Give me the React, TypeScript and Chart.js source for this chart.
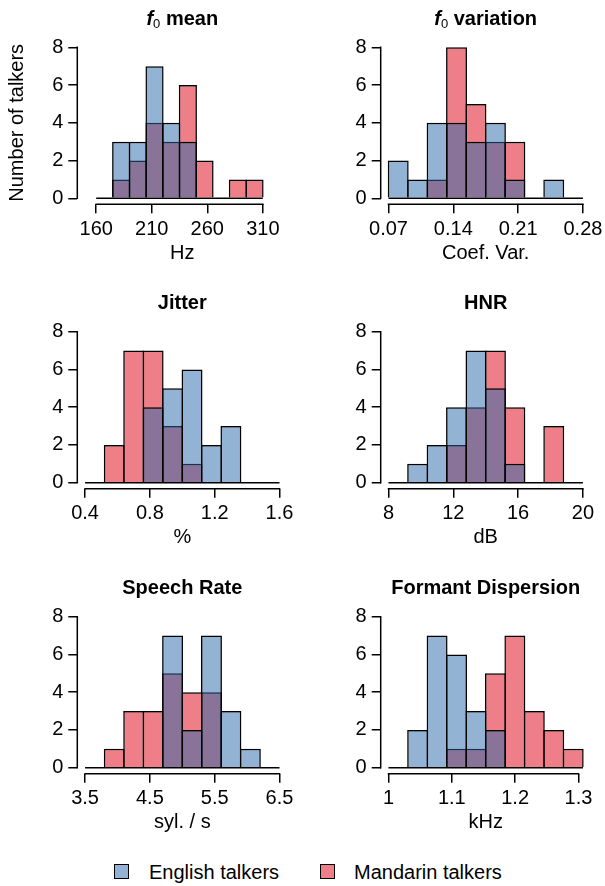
import React, { useEffect, useRef } from 'react';
import { Chart, registerables } from 'chart.js';

Chart.register(...registerables);

const FONT = "'Liberation Sans', Arial, Helvetica, sans-serif";
const ENGLISH_COLOR = 'rgba(37,103,169,0.5)';
const MANDARIN_COLOR = 'rgba(221,0,17,0.5)';

// ---------- data ----------
const f0MeanBreaks = [160, 175, 190, 205, 220, 235, 250, 265, 280, 295, 310];
const f0MeanEnglish = [0, 3, 3, 7, 4, 3, 0, 0, 0, 0];
const f0MeanMandarin = [0, 1, 2, 4, 3, 6, 2, 0, 1, 1];
const f0MeanTicks = [160, 210, 260, 310];
const f0MeanTickLabels = ['160', '210', '260', '310'];

const f0VarBreaks = [0.07, 0.091, 0.112, 0.133, 0.154, 0.175, 0.196, 0.217, 0.238, 0.259, 0.28];
const f0VarEnglish = [2, 1, 4, 4, 3, 4, 1, 0, 1, 0];
const f0VarMandarin = [0, 0, 1, 8, 5, 3, 3, 0, 0, 0];
const f0VarTicks = [0.07, 0.14, 0.21, 0.28];
const f0VarTickLabels = ['0.07', '0.14', '0.21', '0.28'];

const jitterBreaks = [0.4, 0.52, 0.64, 0.76, 0.88, 1.0, 1.12, 1.24, 1.36, 1.48, 1.6];
const jitterEnglish = [0, 0, 0, 4, 5, 6, 2, 3, 0, 0];
const jitterMandarin = [0, 2, 7, 7, 3, 1, 0, 0, 0, 0];
const jitterTicks = [0.4, 0.8, 1.2, 1.6];
const jitterTickLabels = ['0.4', '0.8', '1.2', '1.6'];

const hnrBreaks = [8, 9.2, 10.4, 11.6, 12.8, 14, 15.2, 16.4, 17.6, 18.8, 20];
const hnrEnglish = [0, 1, 2, 4, 7, 5, 1, 0, 0, 0];
const hnrMandarin = [0, 0, 0, 2, 4, 7, 4, 0, 3, 0];
const hnrTicks = [8, 12, 16, 20];
const hnrTickLabels = ['8', '12', '16', '20'];

const rateBreaks = [3.5, 3.8, 4.1, 4.4, 4.7, 5.0, 5.3, 5.6, 5.9, 6.2, 6.5];
const rateEnglish = [0, 0, 0, 0, 7, 2, 7, 3, 1, 0];
const rateMandarin = [0, 1, 3, 3, 5, 4, 4, 0, 0, 0];
const rateTicks = [3.5, 4.5, 5.5, 6.5];
const rateTickLabels = ['3.5', '4.5', '5.5', '6.5'];

const formantBreaks = [1.0, 1.0307, 1.0614, 1.0921, 1.1228, 1.1535, 1.1842, 1.2149, 1.2456, 1.2763, 1.307];
const formantEnglish = [0, 2, 7, 6, 3, 2, 0, 0, 0, 0];
const formantMandarin = [0, 0, 0, 1, 1, 5, 7, 3, 2, 1];
const formantTicks = [1, 1.1, 1.2, 1.3];
const formantTickLabels = ['1', '1.1', '1.2', '1.3'];

const yTicks = [0, 2, 4, 6, 8];
const yTickLabels = ['0', '2', '4', '6', '8'];

// ---------- layout ----------
const CANVAS_W = 300;
const CANVAS_H = 270;
const AREA_W = 210;
const AREA_H = 163;
const BW = 1.5;
const COL_LEFT = [0, 303];
const Y_AXIS_W = [77.3, 77.7];
const ROW_TOP = [0, 284, 569];
const PAD_TOP = [41.3, 41.7, 41.7];

type Panel = {
  key: string;
  title: React.ReactNode;
  xLabel: string;
  breaks: number[];
  english: number[];
  mandarin: number[];
  ticks: number[];
  tickLabels: string[];
  range: [number, number];
  col: number;
  row: number;
  yTitle: boolean;
};

const subStyle: React.CSSProperties = { fontSize: '0.65em', fontWeight: 'normal', lineHeight: 0, verticalAlign: '-0.25em' };

const PANELS: Panel[] = [
  {
    key: 'f0mean',
    title: (<><i>f</i><span style={subStyle}>0</span> mean</>),
    xLabel: 'Hz', breaks: f0MeanBreaks, english: f0MeanEnglish, mandarin: f0MeanMandarin,
    ticks: f0MeanTicks, tickLabels: f0MeanTickLabels, range: [143, 332], col: 0, row: 0, yTitle: true,
  },
  {
    key: 'f0var',
    title: (<><i>f</i><span style={subStyle}>0</span> variation</>),
    xLabel: 'Coef. Var.', breaks: f0VarBreaks, english: f0VarEnglish, mandarin: f0VarMandarin,
    ticks: f0VarTicks, tickLabels: f0VarTickLabels, range: [0.0616, 0.2884], col: 1, row: 0, yTitle: false,
  },
  {
    key: 'jitter', title: 'Jitter', xLabel: '%', breaks: jitterBreaks, english: jitterEnglish, mandarin: jitterMandarin,
    ticks: jitterTicks, tickLabels: jitterTickLabels, range: [0.352, 1.648], col: 0, row: 1, yTitle: false,
  },
  {
    key: 'hnr', title: 'HNR', xLabel: 'dB', breaks: hnrBreaks, english: hnrEnglish, mandarin: hnrMandarin,
    ticks: hnrTicks, tickLabels: hnrTickLabels, range: [7.52, 20.48], col: 1, row: 1, yTitle: false,
  },
  {
    key: 'rate', title: 'Speech Rate', xLabel: 'syl. / s', breaks: rateBreaks, english: rateEnglish, mandarin: rateMandarin,
    ticks: rateTicks, tickLabels: rateTickLabels, range: [3.38, 6.62], col: 0, row: 2, yTitle: false,
  },
  {
    key: 'formant', title: 'Formant Dispersion', xLabel: 'kHz', breaks: formantBreaks, english: formantEnglish, mandarin: formantMandarin,
    ticks: formantTicks, tickLabels: formantTickLabels, range: [0.98772, 1.31928], col: 1, row: 2, yTitle: false,
  },
];

const rAxesPlugin = {
  id: 'rAxes',
  afterDraw(chart: any) {
    const { ctx, chartArea, scales } = chart;
    const x = scales.x;
    const y = scales.y;
    ctx.save();
    ctx.strokeStyle = '#000';
    ctx.lineWidth = BW;
    ctx.beginPath();
    const xt = x.ticks;
    ctx.moveTo(x.getPixelForValue(xt[0].value) - BW / 2, chartArea.bottom);
    ctx.lineTo(x.getPixelForValue(xt[xt.length - 1].value) + BW / 2, chartArea.bottom);
    const yt = y.ticks;
    ctx.moveTo(chartArea.left, y.getPixelForValue(yt[0].value) + BW / 2);
    ctx.lineTo(chartArea.left, y.getPixelForValue(yt[yt.length - 1].value) - BW / 2);
    ctx.stroke();
    ctx.restore();
  },
};

function HistPanel({ p }: { p: Panel }) {
  const ref = useRef<HTMLCanvasElement>(null);
  useEffect(() => {
    if (!ref.current) return;
    const centers = p.english.map((_, i) => (p.breaks[i] + p.breaks[i + 1]) / 2);
    const binPx = (AREA_W * (p.breaks[1] - p.breaks[0])) / (p.range[1] - p.range[0]);
    const barPct = 1 + BW / binPx;
    const barCommon: any = {
      type: 'bar',
      borderColor: '#000',
      borderWidth: BW,
      borderSkipped: 'start',
      barPercentage: barPct,
      categoryPercentage: 1,
      grouped: false,
      inflateAmount: 0,
    };
    const tickFont = { family: FONT, size: 20 };
    const chart = new Chart(ref.current, {
      type: 'bar',
      data: {
        datasets: [
          {
            type: 'line',
            label: 'baseline',
            data: [
              { x: p.breaks[0], y: 0 },
              { x: p.breaks[p.breaks.length - 1], y: 0 },
            ],
            borderColor: '#000',
            borderWidth: BW,
            pointRadius: 0,
            order: -1,
          } as any,
          {
            ...barCommon,
            label: 'English talkers',
            data: centers.map((x, i) => ({ x, y: p.english[i] })),
            backgroundColor: ENGLISH_COLOR,
            order: 0,
          },
          {
            ...barCommon,
            label: 'Mandarin talkers',
            data: centers.map((x, i) => ({ x, y: p.mandarin[i] })),
            backgroundColor: MANDARIN_COLOR,
            order: 1,
          },
        ],
      },
      options: {
        responsive: false,
        animation: false,
        layout: {
          padding: {
            top: PAD_TOP[p.row],
            left: 0,
            right: CANVAS_W - Y_AXIS_W[p.col] - AREA_W,
            bottom: 0,
          },
        },
        plugins: {
          legend: { display: false },
          tooltip: { enabled: false },
          title: { display: false },
        },
        scales: {
          x: {
            type: 'linear',
            min: p.range[0],
            max: p.range[1],
            offset: false,
            afterBuildTicks: (s: any) => {
              s.ticks = p.ticks.map((v) => ({ value: v }));
            },
            afterFit: (s: any) => {
              s.height = CANVAS_H - PAD_TOP[p.row] - AREA_H;
              s.paddingLeft = 0;
              s.paddingRight = 0;
            },
            border: { display: false },
            grid: {
              drawOnChartArea: false,
              drawTicks: true,
              tickLength: 9,
              color: '#000',
              lineWidth: BW,
              offset: false,
            },
            ticks: {
              font: tickFont,
              color: '#000',
              padding: 4,
              maxRotation: 0,
              autoSkip: false,
              callback: (_v: any, i: number) => p.tickLabels[i],
            },
            title: {
              display: true,
              text: p.xLabel,
              font: tickFont,
              color: '#000',
              padding: { top: 0, bottom: 5 },
            },
          },
          y: {
            type: 'linear',
            min: -0.32,
            max: 8.32,
            afterBuildTicks: (s: any) => {
              s.ticks = yTicks.map((v) => ({ value: v }));
            },
            afterFit: (s: any) => {
              s.width = Y_AXIS_W[p.col];
              s.paddingTop = 0;
              s.paddingBottom = 0;
            },
            border: { display: false },
            grid: {
              drawOnChartArea: false,
              drawTicks: true,
              tickLength: 9,
              color: '#000',
              lineWidth: BW,
            },
            ticks: {
              font: tickFont,
              color: '#000',
              padding: 5,
              autoSkip: false,
              callback: (_v: any, i: number) => yTickLabels[i],
            },
            title: {
              display: p.yTitle,
              text: 'Number of talkers',
              font: tickFont,
              color: '#000',
              padding: { top: 5.5, bottom: 0 },
            },
          },
        },
      } as any,
      plugins: [rAxesPlugin],
    });
    return () => chart.destroy();
  }, [p]);

  return (
    <canvas
      ref={ref}
      width={CANVAS_W}
      height={CANVAS_H}
      style={{ position: 'absolute', left: COL_LEFT[p.col], top: ROW_TOP[p.row], width: CANVAS_W, height: CANVAS_H }}
    />
  );
}

export default function App() {
  return (
    <div
      style={{
        position: 'absolute',
        left: 0,
        top: 0,
        width: 605,
        height: 886,
        background: '#fff',
        fontFamily: FONT,
        color: '#000',
        overflow: 'hidden',
      }}
    >
      {PANELS.map((p) => (
        <HistPanel key={p.key} p={p} />
      ))}
      {PANELS.map((p) => (
        <div
          key={p.key + '-title'}
          style={{
            position: 'absolute',
            left: COL_LEFT[p.col] + Y_AXIS_W[p.col],
            width: AREA_W,
            top: ROW_TOP[p.row] + 8.3,
            textAlign: 'center',
            fontWeight: 'bold',
            fontSize: 20,
            lineHeight: '20px',
            whiteSpace: 'nowrap',
          }}
        >
          {p.title}
        </div>
      ))}
      <div
        style={{
          position: 'absolute', left: 114, top: 864, width: 15, height: 15,
          boxSizing: 'border-box', border: '1px solid #000', background: ENGLISH_COLOR,
        }}
      />
      <div style={{ position: 'absolute', left: 149, top: 862, fontSize: 20, lineHeight: '20px', whiteSpace: 'nowrap' }}>
        English talkers
      </div>
      <div
        style={{
          position: 'absolute', left: 320, top: 864, width: 15, height: 15,
          boxSizing: 'border-box', border: '1px solid #000', background: MANDARIN_COLOR,
        }}
      />
      <div style={{ position: 'absolute', left: 354, top: 862, fontSize: 20, lineHeight: '20px', whiteSpace: 'nowrap' }}>
        Mandarin talkers
      </div>
    </div>
  );
}
